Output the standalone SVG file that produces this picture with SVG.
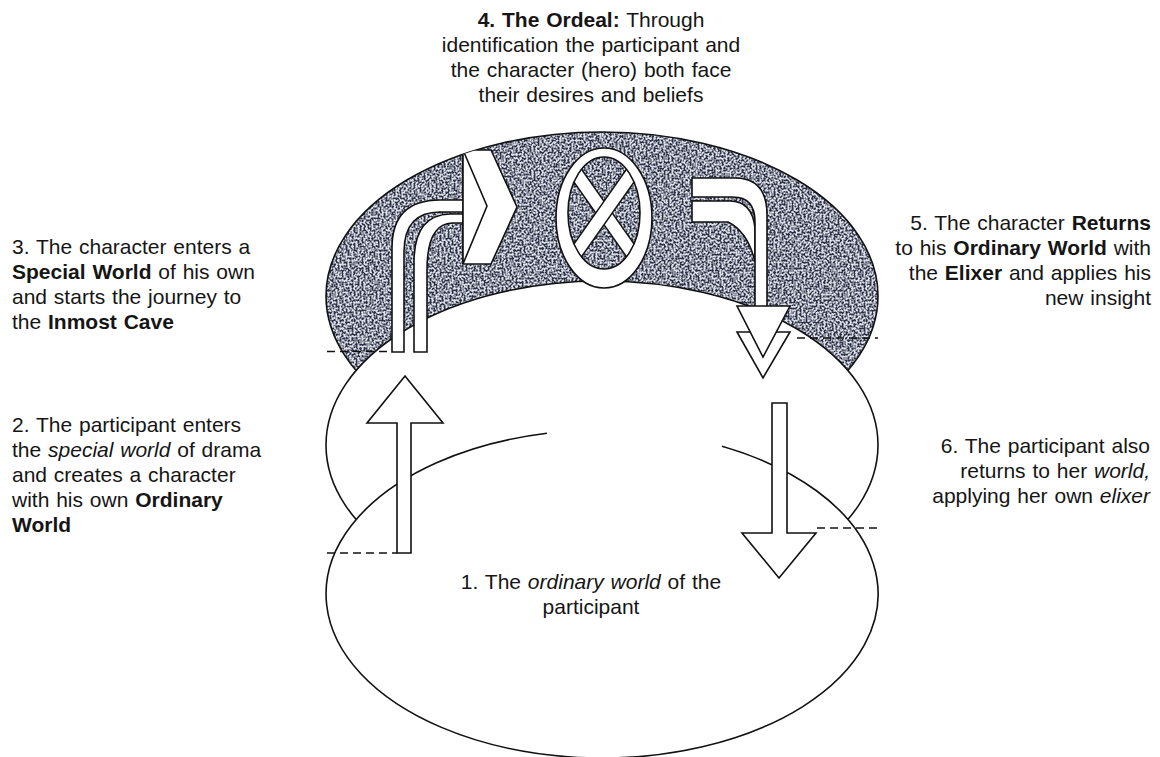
<svg xmlns="http://www.w3.org/2000/svg" width="1160" height="757" viewBox="0 0 1160 757">
<defs>
<style>
.t{font-family:"Liberation Sans",Arial,sans-serif;font-size:21px;fill:#151515;word-spacing:1px}
.b{font-weight:bold}
.i{font-style:italic}
.ol{fill:none;stroke:#111;stroke-width:1.6}
.w{fill:#fff;stroke:#111;stroke-width:1.6;stroke-linejoin:miter}
.dash{stroke:#111;stroke-width:1.6;stroke-dasharray:8 5;fill:none}
.grain{fill:#dde0e6;filter:url(#grain)}
</style>
<filter id="grain" filterUnits="userSpaceOnUse" x="320" y="125" width="570" height="260" color-interpolation-filters="sRGB">
<feTurbulence type="fractalNoise" baseFrequency="0.5" numOctaves="3" seed="4" result="n"/>
<feColorMatrix in="n" type="matrix" values="0 0 0 0 0.17  0 0 0 0 0.19  0 0 0 0 0.28  5 0 0 0 -2.05" result="d"/>
<feComposite in="d" in2="SourceGraphic" operator="in" result="dc"/>
<feMerge><feMergeNode in="SourceGraphic"/><feMergeNode in="dc"/></feMerge>
</filter>
<clipPath id="bandClip"><ellipse cx="602" cy="296" rx="276" ry="164"/></clipPath>
<clipPath id="innerO"><ellipse cx="604" cy="213" rx="36" ry="56"/></clipPath>
</defs>
<rect width="1160" height="757" fill="#fff"/>

<g id="special-world-character">
<ellipse class="grain" cx="602" cy="296" rx="276" ry="164"/>
<ellipse class="ol" cx="602" cy="296" rx="276" ry="164"/>
</g>
<g id="special-world-drama">
<ellipse class="w" cx="602" cy="445" rx="276" ry="164"/>
</g>
<g id="ordinary-world">
<ellipse cx="602" cy="594" rx="276" ry="164" fill="#fff"/>
<path class="ol" d="M547 433.3 A276 164 0 1 0 722 446.3"/>
</g>

<g id="thresholds">
<line class="dash" x1="327" y1="351.5" x2="392" y2="351.5"/>
<line class="dash" x1="327" y1="553" x2="397" y2="553"/>
<line class="dash" x1="797" y1="338" x2="878" y2="338"/>
<line class="dash" x1="817" y1="528" x2="878" y2="528"/>
</g>

<g id="ordeal">
<ellipse class="w" cx="604" cy="218" rx="48" ry="70"/>
<ellipse class="grain" cx="604" cy="213" rx="36" ry="56"/>
<g clip-path="url(#innerO)">
<line x1="559" y1="149" x2="649" y2="277" stroke="#111" stroke-width="15"/>
<line x1="559" y1="149" x2="649" y2="277" stroke="#fff" stroke-width="12"/>
<line x1="649" y1="149" x2="559" y2="277" stroke="#111" stroke-width="15"/>
<line x1="649" y1="149" x2="559" y2="277" stroke="#fff" stroke-width="12"/>
</g>
<ellipse class="ol" cx="604" cy="213" rx="36" ry="56"/>
</g>

<g id="connectors">
<g id="journey-to-cave" clip-path="url(#bandClip)">
<path class="w" d="M392 352 V248 Q392 200 440 200 H464 V212 H440 Q404 212 404 252 V352 Z"/>
<path class="w" d="M414 352 V262 Q414 215 450 214 H464 V223 H452 Q427 224 427 270 V352 Z"/>
<polygon class="w" points="463,150 491,150 517,207 491,264 463,264"/>
<polygon class="w" points="463,150 487,206 463,264"/>
</g>
<g id="return-arrow">
<path class="w" d="M692 201 H730 Q752 201 755 228 L755 262 Q748 232 728 222 H692 Z"/>
<path class="w" d="M692 178 H735 Q767 178 767 215 V307 H755 V222 Q755 197 733 197 H692 Z"/>
<polygon class="w" points="737,332 790,332 763,378"/>
<polygon class="w" points="737,306 790,306 763,357"/>
</g>
<path id="enter-arrow" class="w" d="M405 376 L443 423 H411 V553 H397 V423 H367 Z"/>
<path id="return-down" class="w" d="M772 403 H787 V533 H816 L779 578 L742 533 H772 Z"/>
</g>

<g id="label-4">
<text class="t" x="591" y="27" text-anchor="middle"><tspan class="b">4. The Ordeal:</tspan> Through</text>
<text class="t" x="591" y="52" text-anchor="middle">identification the participant and</text>
<text class="t" x="591" y="77" text-anchor="middle">the character (hero) both face</text>
<text class="t" x="591" y="102" text-anchor="middle">their desires and beliefs</text>
</g>
<g id="label-3">
<text class="t" x="12" y="254">3. The character enters a</text>
<text class="t" x="12" y="279"><tspan class="b">Special World</tspan> of his own</text>
<text class="t" x="12" y="304">and starts the journey to</text>
<text class="t" x="12" y="329">the <tspan class="b">Inmost Cave</tspan></text>
</g>
<g id="label-2">
<text class="t" x="12" y="432">2. The participant enters</text>
<text class="t" x="12" y="457">the <tspan class="i">special world</tspan> of drama</text>
<text class="t" x="12" y="482">and creates a character</text>
<text class="t" x="12" y="507">with his own <tspan class="b">Ordinary</tspan></text>
<text class="t" x="12" y="532"><tspan class="b">World</tspan></text>
</g>
<g id="label-5">
<text class="t" x="1151" y="230" text-anchor="end">5. The character <tspan class="b">Returns</tspan></text>
<text class="t" x="1151" y="255" text-anchor="end">to his <tspan class="b">Ordinary World</tspan> with</text>
<text class="t" x="1151" y="280" text-anchor="end">the <tspan class="b">Elixer</tspan> and applies his</text>
<text class="t" x="1151" y="305" text-anchor="end">new insight</text>
</g>
<g id="label-6">
<text class="t" x="1150" y="453" text-anchor="end">6. The participant also</text>
<text class="t" x="1150" y="478" text-anchor="end">returns to her <tspan class="i">world,</tspan></text>
<text class="t" x="1150" y="503" text-anchor="end">applying her own <tspan class="i">elixer</tspan></text>
</g>
<g id="label-1">
<text class="t" x="591" y="589" text-anchor="middle">1. The <tspan class="i">ordinary world</tspan> of the</text>
<text class="t" x="591" y="614" text-anchor="middle">participant</text>
</g>
</svg>
